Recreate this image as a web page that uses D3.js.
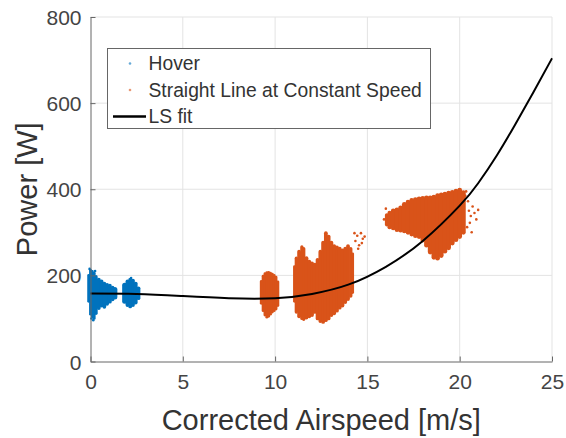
<!DOCTYPE html>
<html>
<head>
<meta charset="utf-8">
<script src="https://cdn.jsdelivr.net/npm/d3@7"></script>
<style>
  html, body { margin: 0; padding: 0; background: #fff; }
  svg { display: block; font-family: "Liberation Sans", Arial, Helvetica, sans-serif; }
</style>
</head>
<body>
<svg id="chart" width="566" height="438"></svg>
<script>
// Airspeed ticks (m/s) and power ticks (W)
const xTicks = [0, 5, 10, 15, 20, 25];
const yTicks = [0, 200, 400, 600, 800];

// Hover samples: vertical extent of the point cloud at each airspeed [airspeed, minW, maxW]
const hoverSpans = [
  [-0.1, 140, 200], [0.0, 110, 212], [0.1, 104, 209], [0.2, 100, 205], [0.3, 112, 197],
  [0.45, 124, 190], [0.6, 130, 186], [0.75, 127, 181], [0.9, 134, 178], [1.05, 139, 176],
  [1.2, 144, 172], [1.32, 150, 167],
  [1.85, 140, 177], [2.0, 131, 186], [2.15, 128, 190], [2.3, 131, 188], [2.45, 137, 181], [2.6, 147, 170]
];
// Stray hover samples
const hoverDots = [[0.05, 100], [0.15, 96], [-0.05, 215], [0.25, 210], [2.2, 194]];

// Straight line at constant speed: point-cloud extents [airspeed, minW, maxW]
const cruiseSpansA = [
  [9.25, 135, 186], [9.35, 118, 198], [9.45, 108, 204], [9.55, 103, 206], [9.65, 105, 207],
  [9.75, 110, 205], [9.85, 115, 203], [9.95, 118, 200], [10.05, 122, 196], [10.15, 130, 185]
];
const cruiseSpansB = [
  [11.05, 140, 220], [11.15, 115, 240], [11.3, 105, 255], [11.45, 100, 266], [11.55, 98, 262],
  [11.7, 102, 240], [11.85, 105, 232], [12.0, 108, 228], [12.15, 115, 225], [12.3, 100, 236],
  [12.45, 94, 255], [12.6, 92, 276], [12.75, 96, 298], [12.9, 100, 290], [13.05, 108, 276],
  [13.2, 112, 268], [13.35, 118, 265], [13.5, 125, 262], [13.65, 130, 258], [13.8, 138, 262],
  [13.95, 145, 268], [14.1, 152, 262], [14.2, 160, 250]
];
const cruiseSpansC = [
  [16.05, 318, 340], [16.2, 312, 345], [16.4, 310, 350], [16.6, 306, 352], [16.8, 305, 357],
  [17.0, 303, 365], [17.2, 300, 370], [17.4, 296, 374], [17.6, 292, 376], [17.8, 290, 378],
  [18.0, 282, 379], [18.2, 270, 380], [18.4, 254, 380], [18.6, 242, 382], [18.8, 240, 385],
  [19.0, 246, 387], [19.2, 256, 389], [19.4, 264, 391], [19.6, 275, 393], [19.8, 283, 396],
  [20.0, 290, 398], [20.2, 300, 392]
];
// Stray cruise samples
const cruiseDots = [
  [14.3, 298], [14.35, 280], [14.45, 292], [14.5, 262], [14.55, 270], [14.65, 298],
  [14.7, 275], [14.75, 285], [14.85, 290],
  [20.3, 385], [20.35, 395], [20.4, 312], [20.45, 372], [20.5, 350], [20.55, 322],
  [20.6, 338], [20.65, 300], [20.7, 360], [20.8, 345], [20.9, 330], [21.0, 352],
  [16.0, 355], [15.9, 330]
];

// Least-squares fit curve [airspeed, power]
const fitX = [0, 2.5, 5, 7.5, 10, 12, 14, 16, 18, 20, 21, 22, 23, 24, 25];
const fitY = [158, 157, 152, 147, 147, 157, 179, 220, 280, 362, 414, 478, 550, 626, 704];

const legendLabels = ["Hover", "Straight Line at Constant Speed", "LS fit"];
const colors = { hover: "#0072BD", cruise: "#D95319", fit: "#000000" };

const svg = d3.select("#chart");
const x = d3.scaleLinear().domain([0, 25]).range([90.5, 552]);
const y = d3.scaleLinear().domain([0, 800]).range([361.5, 17]);

// grid
const grid = svg.append("g").attr("stroke", "#e3e3e3").attr("stroke-width", 1);
grid.selectAll(".gx").data(xTicks.filter(d => d > 0)).join("line")
  .attr("x1", d => x(d)).attr("x2", d => x(d)).attr("y1", y(0)).attr("y2", y(800));
grid.selectAll(".gy").data(yTicks.filter(d => d > 0)).join("line")
  .attr("y1", d => y(d)).attr("y2", d => y(d)).attr("x1", x(0)).attr("x2", x(25));

// point clouds drawn as dense columns
function drawSpans(data, color) {
  const g = svg.append("g").attr("stroke", color).attr("stroke-linecap", "round");
  g.selectAll("line").data(data).join("line")
    .attr("x1", d => x(d[0])).attr("x2", d => x(d[0]))
    .attr("y1", d => y(d[1])).attr("y2", d => y(d[2]))
    .attr("stroke-width", (d, i) => {
      const prev = data[Math.max(0, i - 1)][0], next = data[Math.min(data.length - 1, i + 1)][0];
      const step = (next - prev) / ((i > 0 && i < data.length - 1) ? 2 : 1);
      return Math.min(5, Math.abs(x(step) - x(0)) + 1);
    });
}
function drawDots(data, color) {
  svg.append("g").attr("fill", color).selectAll("circle").data(data).join("circle")
    .attr("cx", d => x(d[0])).attr("cy", d => y(d[1])).attr("r", 1.3);
}
drawSpans(hoverSpans, colors.hover);
drawDots(hoverDots, colors.hover);
drawSpans(cruiseSpansA, colors.cruise);
drawSpans(cruiseSpansB, colors.cruise);
drawSpans(cruiseSpansC, colors.cruise);
drawDots(cruiseDots, colors.cruise);

// fit line
const fitData = fitX.map((v, i) => [v, fitY[i]]);
svg.append("path").datum(fitData)
  .attr("fill", "none").attr("stroke", colors.fit).attr("stroke-width", 2)
  .attr("d", d3.line().x(d => x(d[0])).y(d => y(d[1])).curve(d3.curveNatural));

// axes (ticks point inward)
const axisColor = "#666";
const xAxis = svg.append("g").attr("transform", `translate(0,${y(0)})`)
  .call(d3.axisBottom(x).tickValues(xTicks).tickSizeInner(-5).tickSizeOuter(0).tickPadding(10));
const yAxis = svg.append("g").attr("transform", `translate(${x(0)},0)`)
  .call(d3.axisLeft(y).tickValues(yTicks).tickSizeInner(-5).tickSizeOuter(0).tickPadding(9));
[xAxis, yAxis].forEach(a => {
  a.select(".domain").attr("stroke", axisColor);
  a.selectAll(".tick line").attr("stroke", axisColor);
  a.selectAll(".tick text").attr("fill", "#444").attr("font-size", 21)
    .attr("font-family", "Liberation Sans, Arial, sans-serif");
});
xAxis.selectAll(".tick text").attr("dy", "0.85em");
yAxis.selectAll(".tick text").attr("dy", "0.36em");

// axis titles
svg.append("text").attr("x", (x(0) + x(25)) / 2).attr("y", 430)
  .attr("text-anchor", "middle").attr("font-size", 29).attr("fill", "#333")
  .text("Corrected Airspeed [m/s]");
svg.append("text").attr("transform", `translate(37,${(y(0) + y(800)) / 2}) rotate(-90)`)
  .attr("text-anchor", "middle").attr("font-size", 29).attr("fill", "#333")
  .text("Power [W]");

// legend
const lg = svg.append("g");
lg.append("rect").attr("x", 107.5).attr("y", 48.5).attr("width", 323).attr("height", 80)
  .attr("fill", "#fff").attr("stroke", "#666").attr("stroke-width", 1);
const rowY = [63.5, 90, 116.5];
lg.append("circle").attr("cx", 130).attr("cy", rowY[0]).attr("r", 1.3).attr("fill", colors.hover).attr("opacity", 0.6);
lg.append("circle").attr("cx", 130).attr("cy", rowY[1]).attr("r", 1.3).attr("fill", colors.cruise).attr("opacity", 0.6);
lg.append("line").attr("x1", 113).attr("x2", 146).attr("y1", rowY[2]).attr("y2", rowY[2])
  .attr("stroke", colors.fit).attr("stroke-width", 2.5);
lg.selectAll("text.lab").data(legendLabels).join("text")
  .attr("x", 148.5).attr("y", (d, i) => rowY[i]).attr("dy", "0.35em")
  .attr("font-size", 19.3).attr("fill", "#333").text(d => d);
</script>
</body>
</html>
